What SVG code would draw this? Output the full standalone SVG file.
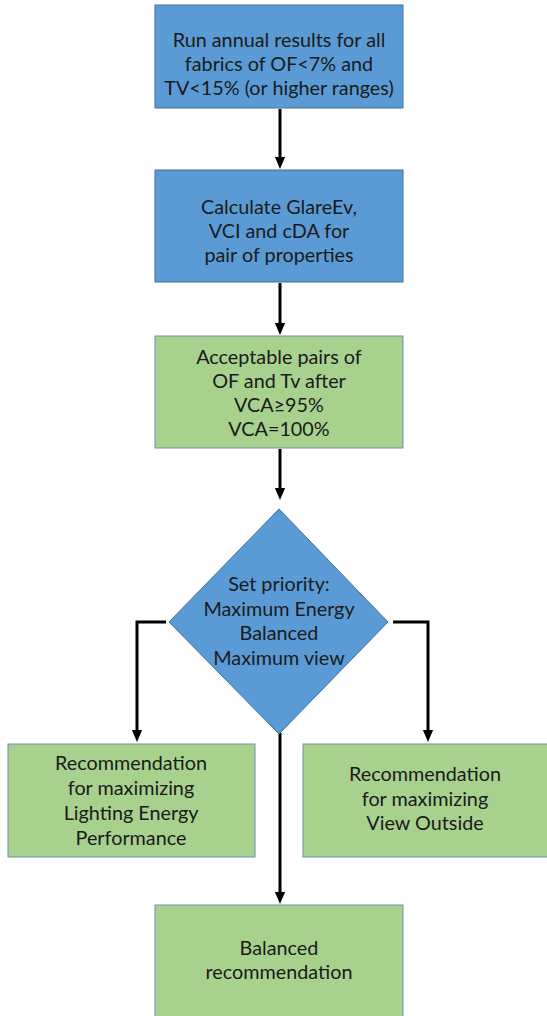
<svg xmlns="http://www.w3.org/2000/svg" width="547" height="1016" viewBox="0 0 547 1016">
<style>
.blue{fill:#5B9BD5;stroke:#41719C;stroke-width:1}
.green{fill:#A9D18E;stroke:#6F8FB0;stroke-width:1}
text{font-family:Lato,"Liberation Sans",sans-serif;font-size:19.8px;fill:#1a1a1a;text-anchor:middle}
.c{fill:none;stroke:#000;stroke-width:3}
</style>
<defs>
<marker id="ah" markerWidth="4" markerHeight="4" refX="2" refY="2" orient="auto" markerUnits="strokeWidth">
<path d="M0,0.3 L4,2 L0,3.7 z" fill="#000"/>
</marker>
</defs>
<rect width="547" height="1016" fill="#fff"/>
<g id="connectors">
<line class="c" x1="280" y1="109" x2="280" y2="163" marker-end="url(#ah)"/>
<line class="c" x1="280" y1="283" x2="280" y2="329" marker-end="url(#ah)"/>
<line class="c" x1="280" y1="449" x2="280" y2="494" marker-end="url(#ah)"/>
<polyline class="c" points="166,622 137,622 137,736" marker-end="url(#ah)"/>
<polyline class="c" points="393,622 428,622 428,736" marker-end="url(#ah)"/>
<line class="c" x1="280" y1="733" x2="280" y2="898" marker-end="url(#ah)"/>
</g>
<g id="n1">
<rect class="blue" x="155" y="5" width="248" height="103"/>
<text x="279" y="47">Run annual results for all</text>
<text x="279" y="71">fabrics of OF&lt;7% and</text>
<text x="279" y="95">TV&lt;15% (or higher ranges)</text>
</g>
<g id="n2">
<rect class="blue" x="155" y="170" width="248" height="112"/>
<text x="279" y="214">Calculate GlareEv,</text>
<text x="279" y="238">VCI and cDA for</text>
<text x="279" y="262">pair of properties</text>
</g>
<g id="n3">
<rect class="green" x="155" y="336" width="248" height="112"/>
<text x="279" y="364">Acceptable pairs of</text>
<text x="279" y="388">OF and Tv after</text>
<text x="279" y="412">VCA≥95%</text>
<text x="279" y="436">VCA=100%</text>
</g>
<g id="n4">
<polygon class="blue" points="279,509 388,622 279,734 169,622"/>
<text x="279" y="591">Set priority:</text>
<text x="279" y="616">Maximum Energy</text>
<text x="279" y="640">Balanced</text>
<text x="279" y="665">Maximum view</text>
</g>
<g id="n5">
<rect class="green" x="8" y="744" width="247" height="113"/>
<text x="131" y="770">Recommendation</text>
<text x="131" y="795">for maximizing</text>
<text x="131" y="820">Lighting Energy</text>
<text x="131" y="845">Performance</text>
</g>
<g id="n6">
<rect class="green" x="303" y="744" width="250" height="113"/>
<text x="425" y="781">Recommendation</text>
<text x="425" y="806">for maximizing</text>
<text x="425" y="830">View Outside</text>
</g>
<g id="n7">
<rect class="green" x="155" y="905" width="248" height="120"/>
<text x="279" y="955">Balanced</text>
<text x="279" y="979">recommendation</text>
</g>
</svg>
